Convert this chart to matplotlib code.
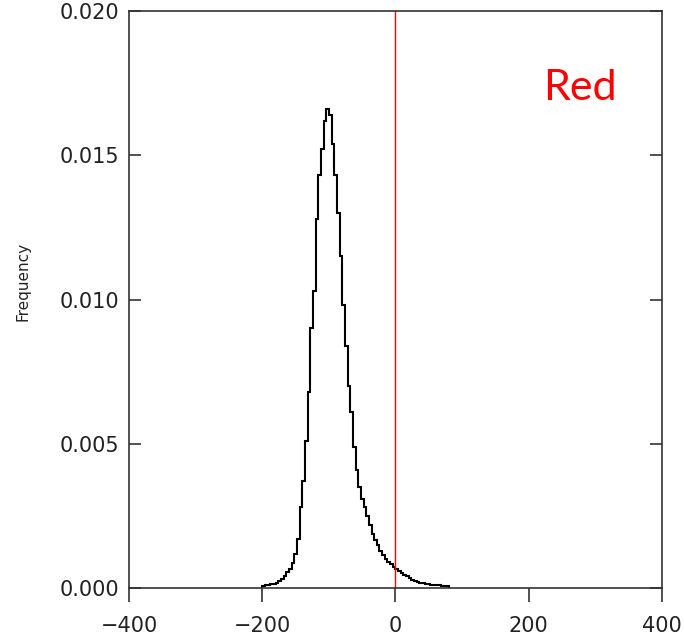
import numpy as np
import matplotlib.pyplot as plt

# histogram: bins of width 4, starting at -200
bin_lo = -200
bin_width = 4
freq = [0.00007, 0.00009, 0.00011, 0.00013, 0.00015, 0.00018, 0.00024, 0.00032,
        0.00041, 0.00054, 0.00067, 0.00088, 0.00118, 0.0017, 0.0028, 0.0037,
        0.0051, 0.0068, 0.0090, 0.0103, 0.0128, 0.0143, 0.0152, 0.0162, 0.0166,
        0.0164, 0.0154, 0.0143, 0.0130, 0.0115, 0.0098, 0.0084, 0.0070, 0.0061,
        0.0049, 0.0041, 0.0035, 0.0031, 0.0028, 0.0025, 0.0022, 0.00186, 0.00168,
        0.00149, 0.0013, 0.00115, 0.00102, 0.00091, 0.00082, 0.00073, 0.00066,
        0.00059, 0.00052, 0.00046, 0.0004, 0.00034, 0.00028, 0.00025, 0.00022,
        0.00019, 0.00017, 0.00015, 0.00013, 0.00012, 0.00011, 0.0001, 0.00009,
        0.00008, 0.00007, 0.00007]
edges = bin_lo + bin_width*np.arange(len(freq)+1)

xticks = [-400, -200, 0, 200, 400]
yticks = [0.000, 0.005, 0.010, 0.015, 0.020]
ytick_labels = ['0.000', '0.005', '0.010', '0.015', '0.020']
xtick_labels = ['\u2212400', '\u2212200', '0', '200', '400']

fig = plt.figure(figsize=(6.84, 6.43), dpi=100)
ax = fig.add_axes([0.1886, 0.0855, 0.7792, 0.8974])

ax.stairs(freq, edges, color='black', lw=1.5)
ax.axvline(0, color='red', lw=1)

ax.set_xlim(-400, 400)
ax.set_ylim(0, 0.020)
ax.set_xticks(xticks)
ax.set_xticklabels(xtick_labels)
ax.set_yticks(yticks)
ax.set_yticklabels(ytick_labels)

for s in ax.spines.values():
    s.set_color('#333333')
    s.set_linewidth(1.2)

ax.tick_params(axis='x', direction='out', length=10, width=1.2, color='#333333',
               pad=10, labelsize=15, labelcolor='#222222')
ax.tick_params(axis='y', direction='in', length=8.5, width=1.2, color='#333333',
               right=True, pad=7, labelsize=15, labelcolor='#222222')

ax.set_ylabel('Frequency', fontsize=11, color='#222222')
ax.yaxis.set_label_coords(-0.185, 0.532)

ax.text(0.846, 0.867, 'Red', transform=ax.transAxes, color='red',
        fontsize=31, family='Lato', ha='center', va='center')

fig.savefig('out.png', dpi=100)
